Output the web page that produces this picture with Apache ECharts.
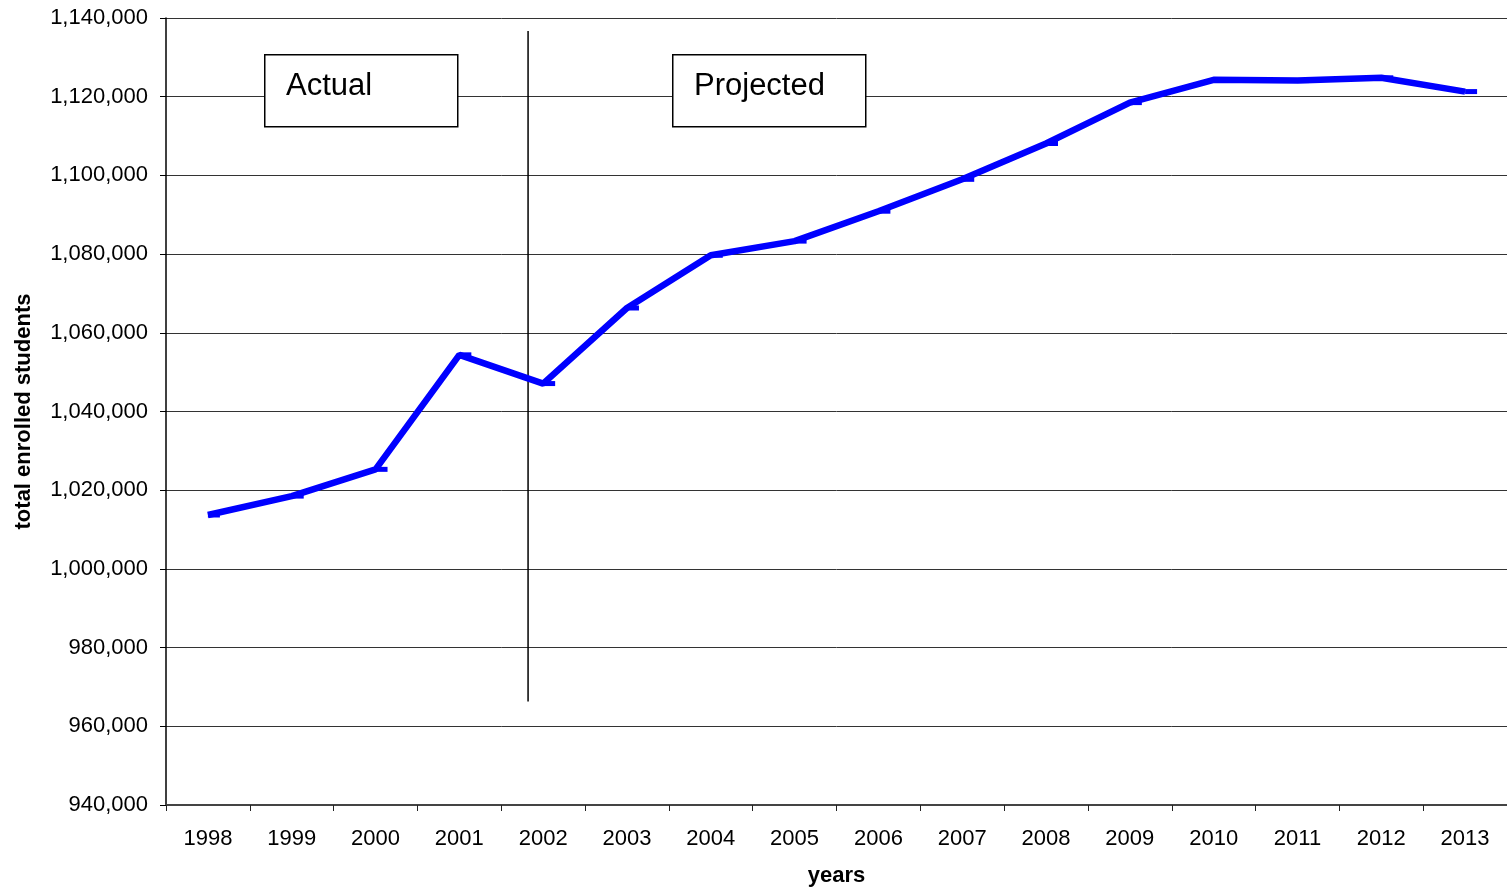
<!DOCTYPE html>
<html>
<head>
<meta charset="utf-8">
<script src="https://cdn.jsdelivr.net/npm/echarts@6/dist/echarts.min.js"></script>
<style>
html,body{margin:0;padding:0;background:#fff;overflow:hidden;}
#chart{width:1507px;height:892px;}
</style>
</head>
<body>
<div id="chart"></div>
<script>
const years = ['1998','1999','2000','2001','2002','2003','2004','2005','2006','2007','2008','2009','2010','2011','2012','2013'];
const enrolled = [1013700, 1018500, 1025300, 1054400, 1047100, 1066300, 1079700, 1083300, 1090900, 1099000, 1108100, 1118500, 1124300, 1124100, 1124800, 1121300];
// divider between actual and projected (category position, value range)
const dividerX = [4.32, 4.32];
const dividerY = [966300, 1136700];

const chart = echarts.init(document.getElementById('chart'));
const font = 'Liberation Sans, Arial, sans-serif';
chart.setOption({
  animation: false,
  grid: {left: 166, width: 1348, top: 18, height: 791, containLabel: false},
  xAxis: [{
    type: 'category',
    data: years,
    boundaryGap: true,
    name: 'years',
    nameLocation: 'middle',
    nameGap: 60,
    nameTextStyle: {fontFamily: font, fontSize: 22, fontWeight: 'bold', color: '#000'},
    axisLine: {lineStyle: {color: '#444', width: 2}},
    axisTick: {show: true, length: 6, lineStyle: {color: '#222', width: 1}},
    axisLabel: {fontFamily: font, fontSize: 22, color: '#000', margin: 23, interval: 0},
    splitLine: {show: false}
  }, {
    type: 'value', min: 0, max: 16, show: false
  }],
  yAxis: {
    type: 'value',
    min: 940000, max: 1140000, interval: 20000,
    name: 'total enrolled students',
    nameLocation: 'middle',
    nameGap: 131,
    nameTextStyle: {fontFamily: font, fontSize: 22, fontWeight: 'bold', color: '#000'},
    axisLine: {show: true, lineStyle: {color: '#000', width: 1.5}},
    axisTick: {show: true, length: 6, lineStyle: {color: '#000', width: 1}},
    axisLabel: {fontFamily: font, fontSize: 22, color: '#000', margin: 18,
      formatter: v => v.toLocaleString('en-US')},
    splitLine: {show: true, lineStyle: {color: '#333', width: 1}}
  },
  series: [{
    type: 'line',
    data: enrolled,
    lineStyle: {color: '#0000ff', width: 6.5},
    itemStyle: {color: '#0000ff'},
    symbol: 'rect',
    symbolSize: [12, 5],
    symbolOffset: [6, 0],
    showSymbol: true,
    z: 5
  }, {
    type: 'line',
    xAxisIndex: 1,
    data: [[dividerX[0], dividerY[0]], [dividerX[1], dividerY[1]]],
    lineStyle: {color: '#000', width: 1.5},
    symbol: 'none',
    z: 4
  }],
  graphic: [
    {type: 'rect', left: 264, top: 54, shape: {width: 193, height: 72},
     style: {fill: '#fff', stroke: '#000', lineWidth: 1.5}, z: 10},
    {type: 'text', left: 286, top: 71, style: {text: 'Actual', font: '31px Liberation Sans, Arial, sans-serif', fill: '#000'}, z: 11},
    {type: 'rect', left: 672, top: 54, shape: {width: 193, height: 72},
     style: {fill: '#fff', stroke: '#000', lineWidth: 1.5}, z: 10},
    {type: 'text', left: 694, top: 71, style: {text: 'Projected', font: '31px Liberation Sans, Arial, sans-serif', fill: '#000'}, z: 11}
  ]
});
</script>
</body>
</html>
